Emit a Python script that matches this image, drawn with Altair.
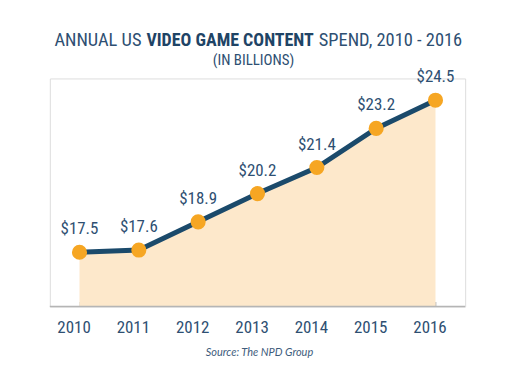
import altair as alt
import pandas as pd

years = ["2010", "2011", "2012", "2013", "2014", "2015", "2016"]
spend = [17.5, 17.6, 18.9, 20.2, 21.4, 23.2, 24.5]
labels = ["$17.5", "$17.6", "$18.9", "$20.2", "$21.4", "$23.2", "$24.5"]

title_regular_left = "ANNUAL US"
title_bold = "VIDEO GAME CONTENT"
title_regular_right = "SPEND, 2010 - 2016"
subtitle = "(IN BILLIONS)"
source = "Source: The NPD Group"

df = pd.DataFrame({"year": years, "spend": spend, "label": labels})

FONT = "Roboto Condensed"
NAVY = "#1b4a6b"
TXT = "#2e4f72"
W, H = 417, 229

x = alt.X("year:N", scale=alt.Scale(paddingInner=0, paddingOuter=0),
          axis=alt.Axis(title=None, labelAngle=0, domain=False, tickColor="#b5b5b5",
                        tickSize=5, tickWidth=1.2, offset=-5, bandPosition=0,
                        labelOffset=-6, labelPadding=13, labelFont=FONT, labelFontSize=17,
                        labelColor=TXT))
y = alt.Y("spend:Q", scale=alt.Scale(domain=[15, 25.5], zero=False, nice=False), axis=None)

base = alt.Chart(df)
area = base.mark_area(color="#fde8cb").encode(x=x, y=y, y2=alt.datum(15))
line = base.mark_line(color=NAVY, strokeWidth=5).encode(x=x, y=y)
pts = base.mark_circle(color="#f6a623", opacity=1, size=230).encode(x=x, y=y)
txt = base.mark_text(font=FONT, fontSize=17, color=TXT, dy=-23).encode(x=x, y=y, text="label:N")

baseline = alt.Chart(pd.DataFrame({"a": [0]})).mark_rule(color="#b5b5b5", strokeWidth=1.5).encode(
    x=alt.value(0), x2=alt.value(W), y=alt.value(H))

def t(text, xpos, ypos, align, size, weight="normal", color=TXT, style="normal", font=FONT):
    return alt.Chart(pd.DataFrame({"t": [text]})).mark_text(
        align=align, baseline="alphabetic", font=font, fontSize=size, fontWeight=weight,
        color=color, fontStyle=style).encode(x=alt.value(xpos), y=alt.value(ypos), text="t:N")

titles = [
    t(title_regular_left, 92, -33, "right", 18.5),
    t(title_bold, 181, -33, "center", 18, weight="bold", color="#1f4466"),
    t(title_regular_right, 270, -33, "left", 18.5),
    t(subtitle, 204.5, -14, "center", 15),
    t(source, 210.5, 279, "center", 11, style="italic", color="#3e5c7c", font="Lato"),
]

chart = alt.layer(area, line, pts, txt, baseline, *titles).properties(
    width=W, height=H,
    autosize=alt.AutoSizeParams(type="none"),
    padding={"left": 42, "top": 70, "right": 40, "bottom": 70},
).configure_view(stroke=None).configure(background="white")

chart.save("out.html", embed_options={"renderer": "svg", "actions": False})
